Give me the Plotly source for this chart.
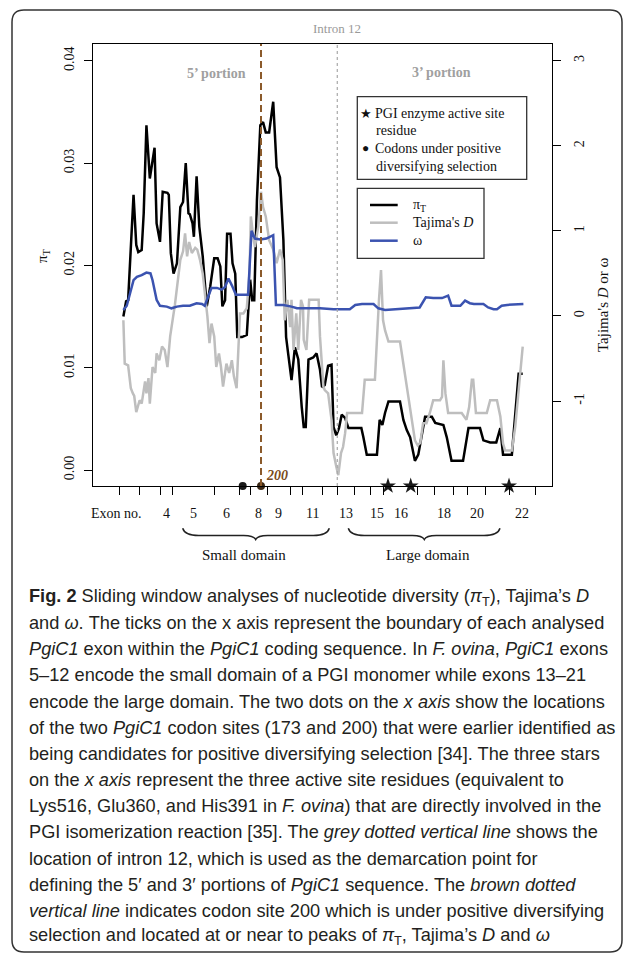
import plotly.graph_objects as go

# ---------------- data ----------------
codon_pi = [-3, 1, 4, 12, 16, 19, 24, 27, 31, 36, 43, 46, 51, 55, 62, 64, 67, 71, 76, 81, 85, 89, 93, 95, 99,
            101, 105, 109, 114, 120, 125, 131, 136, 140, 143, 147, 150, 155, 158, 162, 165, 172, 179, 184, 187,
            190, 194, 199, 203, 207, 212, 218, 223, 228, 233, 237, 240, 245, 250, 255, 260, 263, 266, 270, 277,
            282, 287, 290, 294, 299, 304, 307, 311, 315, 319, 324, 329, 348, 351, 356, 371, 375, 379, 383, 388,
            405, 410, 415, 420, 427, 432, 442, 452, 457, 469, 474, 481, 498, 506, 523, 528, 538, 547, 553, 557,
            570, 580, 586]
pi_T = [0.0150, 0.0165, 0.0166, 0.0269, 0.0220, 0.0213, 0.0215, 0.0251, 0.0337, 0.0285, 0.0315, 0.0241, 0.0223,
        0.0272, 0.0271, 0.0269, 0.0212, 0.0192, 0.0202, 0.0257, 0.0262, 0.0300, 0.0251, 0.0250, 0.0241, 0.0228,
        0.0287, 0.0238, 0.0209, 0.0160, 0.0179, 0.0207, 0.0207, 0.0199, 0.0160, 0.0166, 0.0231, 0.0231, 0.0202,
        0.0192, 0.0130, 0.0130, 0.0132, 0.0186, 0.0166, 0.0166, 0.0264, 0.0337, 0.0340, 0.0330, 0.0330, 0.0360,
        0.0296, 0.0286, 0.0225, 0.0130, 0.0114, 0.0088, 0.0120, 0.0108, 0.0062, 0.0042, 0.0042, 0.0108, 0.0110,
        0.0114, 0.0098, 0.0081, 0.0083, 0.0102, 0.0103, 0.0042, 0.0034, 0.0041, 0.0054, 0.0051, 0.0041, 0.0041,
        0.0032, 0.0015, 0.0015, 0.0049, 0.0044, 0.0056, 0.0067, 0.0067, 0.0049, 0.0039, 0.0032, 0.0009, 0.0015,
        0.0052, 0.0052, 0.0046, 0.0044, 0.0032, 0.0009, 0.0009, 0.0041, 0.0041, 0.0029, 0.0027, 0.0027, 0.0041,
        0.0015, 0.0015, 0.0094, 0.0094]

codon_D = [-3, -1, 4, 8, 11, 13, 16, 21, 24, 29, 31, 34, 36, 40, 44, 46, 50, 54, 58, 62, 66, 73, 81, 85, 88, 91,
           94, 98, 103, 106, 110, 114, 121, 124, 127, 131, 134, 138, 141, 144, 149, 153, 157, 160, 164, 167, 169,
           174, 179, 183, 185, 188, 191, 196, 200, 203, 207, 212, 218, 223, 228, 232, 235, 239, 243, 245, 248,
           252, 255, 259, 262, 263, 267, 271, 285, 287, 292, 294, 299, 304, 307, 311, 314, 318, 321, 324, 327,
           349, 353, 368, 372, 374, 377, 380, 383, 388, 405, 409, 414, 417, 422, 427, 431, 435, 439, 444, 449,
           454, 464, 467, 469, 472, 476, 496, 503, 507, 511, 513, 517, 533, 538, 548, 553, 557, 560, 570, 575,
           580, 582, 586]
tajima_D = [-0.05, -0.56, -0.58, -0.85, -0.91, -0.94, -1.13, -0.99, -1.03, -0.77, -0.91, -0.73, -1.03, -0.60,
            -0.67, -0.44, -0.52, -0.36, -0.40, -0.60, -0.24, 0.13, 0.66, 0.76, 0.97, 0.70, 0.87, 0.74, 0.80, 0.78,
            0.66, 0.50, -0.01, -0.32, -0.09, -0.24, -0.60, -0.44, -0.60, -0.83, -0.56, -0.67, -0.52, -0.71, -0.85,
            -0.20, 0.03, 0.03, 0.09, 0.50, 1.17, 0.97, 0.81, 1.05, 1.46, 1.28, 1.17, 0.89, 0.78, 0.62, 0.78, 0.66,
            -0.05, 0.19, -0.13, 0.19, -0.40, 0.03, -0.40, 0.19, 0.11, -0.28, -0.40, 0.19, 0.19, -0.24, -0.83,
            -0.87, -0.91, -1.22, -1.61, -1.77, -1.87, -1.61, -1.54, -1.38, -1.14, -1.14, -0.75, -0.75, -0.05,
            0.19, 0.54, -0.05, -0.17, -0.30, -0.30, -0.52, -0.75, -0.95, -1.22, -1.46, -1.52, -1.49, -1.26,
            -1.26, -1.14, -0.99, -0.99, -0.95, -0.52, -0.91, -1.14, -1.14, -1.22, -1.07, -0.75, -0.75, -1.14,
            -1.14, -0.99, -0.99, -1.18, -1.50, -1.58, -1.58, -1.30, -0.83, -0.64, -0.36]

codon_w = [-3, 2, 7, 12, 17, 24, 31, 37, 40, 46, 51, 61, 68, 76, 85, 95, 105, 113, 117, 122, 127, 135, 142, 147,
           152, 157, 163, 181, 184, 186, 191, 199, 208, 218, 222, 233, 245, 253, 272, 287, 307, 331, 339, 349,
           366, 373, 383, 400, 415, 434, 443, 454, 467, 476, 481, 494, 501, 508, 514, 528, 535, 543, 548, 555,
           563, 587]
omega = [0.07, 0.12, 0.27, 0.42, 0.46, 0.48, 0.51, 0.50, 0.42, 0.19, 0.12, 0.11, 0.09, 0.11, 0.12, 0.12, 0.15,
         0.14, 0.12, 0.23, 0.33, 0.33, 0.31, 0.34, 0.44, 0.36, 0.25, 0.25, 0.66, 1.00, 0.91, 0.90, 0.91, 0.95,
         0.13, 0.13, 0.11, 0.09, 0.09, 0.09, 0.08, 0.08, 0.13, 0.14, 0.14, 0.09, 0.07, 0.08, 0.09, 0.10, 0.22,
         0.21, 0.21, 0.24, 0.12, 0.12, 0.18, 0.15, 0.14, 0.14, 0.10, 0.08, 0.08, 0.12, 0.13, 0.14]

# exon boundaries (start of exons 2..22 and end of exon 22), codon units
exon_bounds = [-9.0, 20.5, 52.1, 69.8, 130.7, 167.6, 183.8, 209.9, 242.8, 261.5, 290.4, 312.5,
               338.6, 360.8, 381.4, 430.5, 455.2, 483.6, 504.9, 531.4, 565.8, 605.2]
exon_numbers = list(range(2, 23))
labelled_exons = ["4", "5", "6", "8", "9", "11", "13", "15", "16", "18", "20", "22"]

selected_codons = [173, 200]          # positive diversifying selection
active_sites = [387.3, 420.8, 565.8]  # PGI enzyme active site residues
intron12 = exon_bounds[11]

pi_ticks = [0.00, 0.01, 0.02, 0.03, 0.04]
pi_ticktext = ["0.00", "0.01", "0.02", "0.03", "0.04"]
d_ticks = [-1, 0, 1, 2, 3]
d_ticktext = ["-1", "0", "1", "2", "3"]

x_range = [-47.8, 629.2]
pi_range = [-0.00156, 0.04164]
d_range = [-1.998, 3.196]

# ---------------- layout helpers ----------------
W, H = 633, 954
L, R, T, B = 93, 552, 44, 486


def fx(p):
    return (p - L) / (R - L)


def fy(p):
    return (B - p) / (B - T)


def P(a, b):
    return f"{fx(a):.5f},{fy(b):.5f}"


SERIF = "Liberation Serif, Times New Roman, serif"
SANS = "Liberation Sans, Arial, sans-serif"
BLACK = "#000000"
GREY = "#BEBEBE"
BLUE = "#3B53B0"
BROWN = "#8B5A2B"

fig = go.Figure()
fig.add_trace(go.Scatter(x=codon_pi, y=pi_T, mode="lines", name="π<sub>T</sub>",
                         line=dict(color=BLACK, width=2.5), showlegend=False, hoverinfo="skip"))
fig.add_trace(go.Scatter(x=codon_D, y=tajima_D, mode="lines", yaxis="y2", name="Tajima's D",
                         line=dict(color=GREY, width=2.5), showlegend=False, hoverinfo="skip"))
fig.add_trace(go.Scatter(x=codon_w, y=omega, mode="lines", yaxis="y2", name="ω",
                         line=dict(color=BLUE, width=2.5), showlegend=False, hoverinfo="skip"))
fig.add_trace(go.Scatter(x=active_sites, y=[pi_range[0]] * len(active_sites), mode="markers",
                         marker=dict(symbol="star", size=12, color="#1a1a1a"), cliponaxis=False,
                         showlegend=False, hoverinfo="skip"))
fig.add_trace(go.Scatter(x=selected_codons, y=[pi_range[0]] * len(selected_codons), mode="markers",
                         marker=dict(symbol="circle", size=8, color=["#1a1a1a", "#3d2a17"]), cliponaxis=False,
                         showlegend=False, hoverinfo="skip"))

shapes = []
ann = []


def note(x, y, text, size=14, color="#111", family=SERIF, xanchor="center", yanchor="middle",
         xref="paper", yref="paper", **kw):
    d = dict(x=x, y=y, xref=xref, yref=yref, text=text, showarrow=False, xanchor=xanchor,
             yanchor=yanchor, font=dict(family=family, size=size, color=color))
    d.update(kw)
    ann.append(d)


# vertical lines
shapes.append(dict(type="line", xref="x", yref="paper", x0=200, x1=200, y0=0, y1=1,
                   line=dict(color=BROWN, width=2, dash="7px,4px")))
shapes.append(dict(type="line", xref="x", yref="paper", x0=intron12, x1=intron12, y0=0, y1=1,
                   line=dict(color="#A8A8A8", width=1.2, dash="3px,3px")))

# legend boxes
shapes.append(dict(type="rect", xref="paper", yref="paper", x0=fx(357.3), x1=fx(526.7), y0=fy(179.3), y1=fy(96.7),
                   line=dict(color="#333", width=1.3), fillcolor="white", layer="above"))
shapes.append(dict(type="rect", xref="paper", yref="paper", x0=fx(357.3), x1=fx(484), y0=fy(258.3), y1=fy(188.3),
                   line=dict(color="#333", width=1.3), fillcolor="white", layer="above"))
for ypx, col in [(205, BLACK), (222.7, GREY), (240.7, BLUE)]:
    shapes.append(dict(type="line", xref="paper", yref="paper", x0=fx(370), x1=fx(397.7), y0=fy(ypx), y1=fy(ypx),
                       line=dict(color=col, width=2.5), layer="above"))

note(fx(365.5), fy(113.3), "★", size=13)
note(fx(373), fy(113.3), "PGI enzyme active site", xanchor="left")
note(fx(374), fy(130.5), "residue", xanchor="left")
note(fx(365.5), fy(148.3), "●", size=12)
note(fx(373), fy(148.3), "Codons under positive", xanchor="left")
note(fx(374), fy(166), "diversifying selection", xanchor="left")
for yp, txt in [(205, "π<sub>T</sub>"), (222.7, "Tajima's <i>D</i>"), (240.7, "ω")]:
    note(fx(410.7), fy(yp), txt, xanchor="left")

# region labels
note(intron12, fy(29), "Intron 12", size=13, color="#9a9a9a", xref="x")
note(fx(216), fy(73), "<b>5’ portion</b>", color="#a0a0a0")
note(fx(441.7), fy(72.5), "<b>3’ portion</b>", color="#a0a0a0")
note(200, fy(475), "<b><i>200</i></b>", color="#7B4B1A", xref="x", xanchor="left", xshift=3)

# exon labels (centred between boundaries)
for i, num in enumerate(exon_numbers):
    if str(num) in labelled_exons:
        c = (exon_bounds[i] + exon_bounds[i + 1]) / 2
        note(c, fy(513), str(num), xref="x")
note(fx(116), fy(513), "Exon no.")


# braces
def brace(x0, tip, x1, ytop=528.3, ymid=535.5, ybot=539.5):
    path = (f"M {P(x0, ytop)} Q {P(x0 + 2, ymid)} {P(x0 + 16, ymid)} L {P(tip - 12, ymid)} "
            f"Q {P(tip - 2, ymid)} {P(tip, ybot)} Q {P(tip + 2, ymid)} {P(tip + 12, ymid)} "
            f"L {P(x1 - 16, ymid)} Q {P(x1 - 2, ymid)} {P(x1, ytop)}")
    return dict(type="path", xref="paper", yref="paper", path=path, line=dict(color="#222", width=1.5))


shapes.append(brace(182.7, 255.7, 329.3))
shapes.append(brace(348.3, 424.3, 500))
note(fx(244), fy(555), "Small domain", size=15)
note(fx(428), fy(555), "Large domain", size=15)

# axis titles
note(fx(43), fy(256), "π<sub>T</sub>", size=15, textangle=-90)
note(fx(603), fy(305), "Tajima's <i>D</i> or ω", size=15, textangle=-90)

# outer rounded frame
fx0, fy0, fx1, fy1, r = 12, 10, 622, 952, 12
frame = (f"M {P(fx0 + r, fy0)} L {P(fx1 - r, fy0)} Q {P(fx1, fy0)} {P(fx1, fy0 + r)} "
         f"L {P(fx1, fy1 - r)} Q {P(fx1, fy1)} {P(fx1 - r, fy1)} L {P(fx0 + r, fy1)} "
         f"Q {P(fx0, fy1)} {P(fx0, fy1 - r)} L {P(fx0, fy0 + r)} Q {P(fx0, fy0)} {P(fx0 + r, fy0)} Z")
shapes.append(dict(type="path", xref="paper", yref="paper", path=frame, line=dict(color="#333", width=1.5)))

# caption
caption = [
    "<b>Fig. 2</b> Sliding window analyses of nucleotide diversity (<i>π</i><sub>T</sub>), Tajima’s <i>D</i>",
    "and <i>ω</i>. The ticks on the x axis represent the boundary of each analysed",
    "<i>PgiC1</i> exon within the <i>PgiC1</i> coding sequence. In <i>F. ovina</i>, <i>PgiC1</i> exons",
    "5–12 encode the small domain of a PGI monomer while exons 13–21",
    "encode the large domain. The two dots on the <i>x axis</i> show the locations",
    "of the two <i>PgiC1</i> codon sites (173 and 200) that were earlier identified as",
    "being candidates for positive diversifying selection [34]. The three stars",
    "on the <i>x axis</i> represent the three active site residues (equivalent to",
    "Lys516, Glu360, and His391 in <i>F. ovina</i>) that are directly involved in the",
    "PGI isomerization reaction [35]. The <i>grey dotted vertical line</i> shows the",
    "location of intron 12, which is used as the demarcation point for",
    "defining the 5′ and 3′ portions of <i>PgiC1</i> sequence. The <i>brown dotted</i>",
    "<i>vertical line</i> indicates codon site 200 which is under positive diversifying",
    "selection and located at or near to peaks of <i>π</i><sub>T</sub>, Tajima’s <i>D</i> and <i>ω</i>",
]
for k, line in enumerate(caption):
    note(fx(27), fy(597 + 26.15 * k), line, size=18.2, color="#231F20", family=SANS,
         xanchor="left", align="left")

axis_common = dict(showgrid=False, zeroline=False, showline=True, linecolor="black", linewidth=1,
                   ticks="outside", ticklen=8, tickwidth=1, tickcolor="black", automargin=False,
                   tickfont=dict(family=SERIF, size=14, color="#111"))

fig.update_layout(
    width=W, height=H, autosize=False,
    margin=dict(l=L, r=W - R, t=T, b=H - B, pad=0),
    paper_bgcolor="white", plot_bgcolor="white",
    showlegend=False,
    xaxis=dict(range=x_range, tickmode="array", tickvals=exon_bounds, showticklabels=False,
               mirror=True, **axis_common),
    yaxis=dict(range=pi_range, tickmode="array", tickvals=pi_ticks, ticktext=pi_ticktext, tickangle=-90,
               mirror=True, ticklabelstandoff=4, **axis_common),
    yaxis2=dict(range=d_range, overlaying="y", side="right", tickmode="array", tickvals=d_ticks,
                ticktext=d_ticktext, tickangle=-90, ticklabelstandoff=6, **axis_common),
    shapes=shapes, annotations=ann,
)

fig.write_html("out.html", config={"displayModeBar": False, "staticPlot": True},
               post_script="document.body.style.margin='0';document.body.style.overflow='hidden';")
